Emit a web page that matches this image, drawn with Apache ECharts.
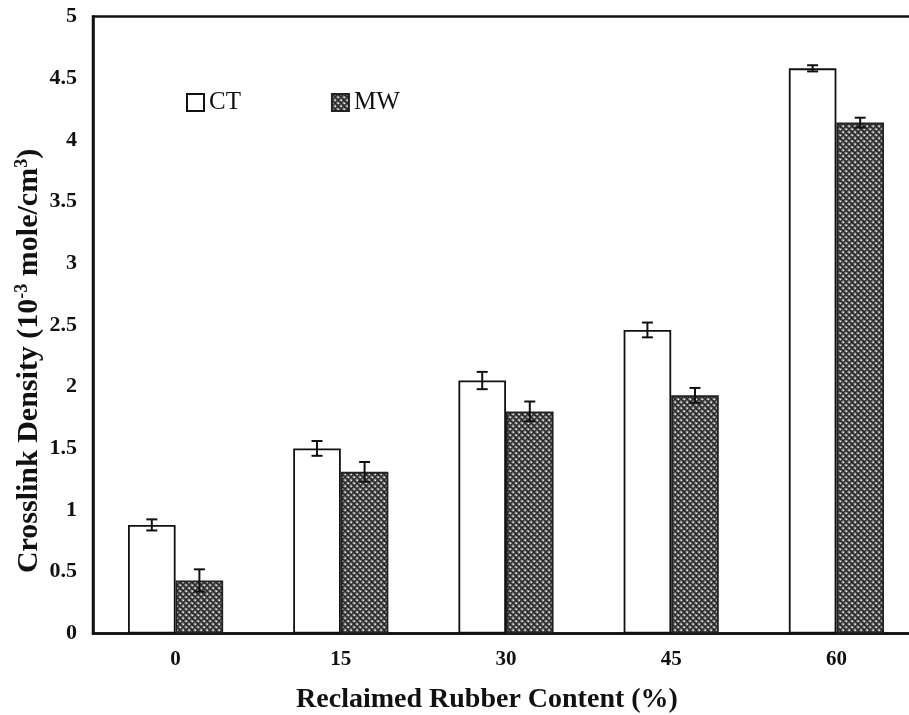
<!DOCTYPE html>
<html>
<head>
<meta charset="utf-8">
<script src="https://cdn.jsdelivr.net/npm/echarts@6/dist/echarts.min.js"></script>
<style>
  html, body { margin: 0; padding: 0; background: #fff; overflow: hidden; }
  /* plot frame continues past the right edge of the window */
  #chart { width: 919px; height: 715px; }
</style>
</head>
<body>
<div id="chart"></div>
<script>
// Crosslink density by reclaimed rubber content, two curing methods
const categories = ['0', '15', '30', '45', '60'];
const ctValues = [0.88, 1.50, 2.05, 2.46, 4.58];
const ctErrors = [0.045, 0.06, 0.07, 0.06, 0.025];
const mwValues = [0.43, 1.31, 1.80, 1.93, 4.14];
const mwErrors = [0.09, 0.08, 0.08, 0.06, 0.04];
const yTicks = { min: 0, max: 5, interval: 0.5 };

// Cross-hatched grey fill for the MW bars
function makeHatch() {
  const c = document.createElement('canvas');
  c.width = 6; c.height = 6;
  const g = c.getContext('2d');
  g.fillStyle = '#9a9a9a';
  g.fillRect(0, 0, 6, 6);
  g.strokeStyle = '#2a2a2a';
  g.lineWidth = 1.5;
  g.beginPath();
  g.moveTo(-1, -1); g.lineTo(7, 7);
  g.moveTo(-1, 7); g.lineTo(7, -1);
  g.moveTo(2, -1); g.lineTo(-1, 2);
  g.moveTo(7, 4); g.lineTo(4, 7);
  g.stroke();
  g.fillStyle = '#eeeeee';
  g.fillRect(3, 0, 1, 1);
  g.fillRect(0, 3, 1, 1);
  return c;
}
const hatch = { image: makeHatch(), repeat: 'repeat' };

const BAR_FRAC = 0.288; // bar width as a share of the category band

function errorBar(offsetSign) {
  return function (params, api) {
    const i = api.value(0);
    const v = api.value(1);
    const e = api.value(2);
    const band = api.size([1, 0])[0];
    const x = api.coord([i, v])[0] + offsetSign * band * BAR_FRAC / 2;
    const yHi = api.coord([i, v + e])[1];
    const yLo = api.coord([i, v - e])[1];
    const cap = 5.5;
    const st = { stroke: '#111', lineWidth: 2 };
    return {
      type: 'group',
      children: [
        { type: 'line', shape: { x1: x, y1: yHi, x2: x, y2: yLo }, style: st },
        { type: 'line', shape: { x1: x - cap, y1: yHi, x2: x + cap, y2: yHi }, style: st },
        { type: 'line', shape: { x1: x - cap, y1: yLo, x2: x + cap, y2: yLo }, style: st }
      ]
    };
  };
}

const serif = '"Liberation Serif", "Times New Roman", serif';
const chart = echarts.init(document.getElementById('chart'), null, { renderer: 'canvas' });

chart.setOption({
  animation: false,
  backgroundColor: '#fff',
  grid: {
    left: 93, top: 16.5, right: 0, bottom: 81.5,
    show: true, borderColor: '#111', borderWidth: 2.5, backgroundColor: 'transparent'
  },
  legend: {
    left: 181, top: 85,
    itemWidth: 17, itemHeight: 17, itemGap: 90,
    icon: 'rect',
    textStyle: { fontFamily: serif, fontSize: 25, color: '#111' },
    data: ['CT', 'MW']
  },
  xAxis: {
    type: 'category',
    data: categories,
    axisLine: { lineStyle: { color: '#111', width: 2.5 } },
    axisTick: { show: false },
    axisLabel: { margin: 16, fontFamily: serif, fontWeight: 'bold', fontSize: 21, color: '#111' }
  },
  yAxis: {
    type: 'value',
    min: yTicks.min, max: yTicks.max, interval: yTicks.interval,
    axisLine: { show: true, lineStyle: { color: '#111', width: 2.5 } },
    axisTick: { show: false },
    splitLine: { show: false },
    axisLabel: { margin: 16, fontFamily: serif, fontWeight: 'bold', fontSize: 22, color: '#111' }
  },
  series: [
    {
      name: 'CT', type: 'bar', data: ctValues,
      barWidth: (BAR_FRAC * 100) + '%', barGap: '0%',
      itemStyle: { color: '#fff', borderColor: '#111', borderWidth: 1.8 }
    },
    {
      name: 'MW', type: 'bar', data: mwValues,
      barWidth: (BAR_FRAC * 100) + '%', barGap: '0%',
      itemStyle: { color: hatch, borderColor: '#222', borderWidth: 1.8 }
    },
    {
      type: 'custom', z: 5,
      renderItem: errorBar(-1),
      data: ctValues.map((v, i) => [i, v, ctErrors[i]])
    },
    {
      type: 'custom', z: 5,
      renderItem: errorBar(1),
      data: mwValues.map((v, i) => [i, v, mwErrors[i]])
    }
  ],
  graphic: [
    {
      type: 'text', x: 29, y: 361, rotation: Math.PI / 2,
      style: {
        text: 'Crosslink Density (10{sup|-3} mole/cm{sup|3})',
        fontFamily: serif, fontWeight: 'bold', fontSize: 30, fill: '#111',
        align: 'center', verticalAlign: 'middle',
        rich: {
          sup: { fontFamily: serif, fontWeight: 'bold', fontSize: 18, fill: '#111', verticalAlign: 'top', lineHeight: 32 }
        }
      }
    },
    {
      type: 'text', x: 487, y: 700,
      style: {
        text: 'Reclaimed Rubber Content (%)',
        fontFamily: serif, fontWeight: 'bold', fontSize: 28, fill: '#111',
        align: 'center', verticalAlign: 'middle'
      }
    }
  ]
});
</script>
</body>
</html>
